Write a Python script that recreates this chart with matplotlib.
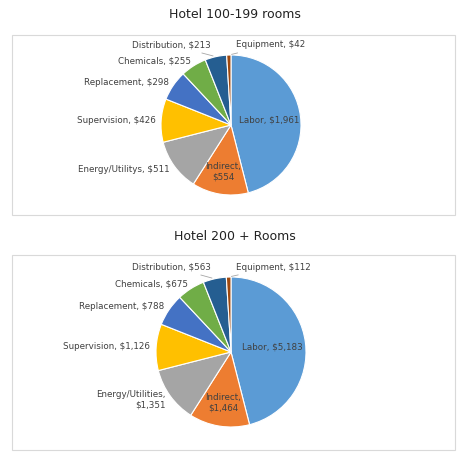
import matplotlib.pyplot as plt
import numpy as np
from matplotlib.patches import Rectangle

categories = ['Labor', 'Indirect', 'Energy/Utilitys', 'Supervision', 'Replacement',
              'Chemicals', 'Distribution', 'Equipment']
categories2 = ['Labor', 'Indirect', 'Energy/Utilities', 'Supervision', 'Replacement',
               'Chemicals', 'Distribution', 'Equipment']
values_small = [1961, 554, 511, 426, 298, 255, 213, 42]
values_large = [5183, 1464, 1351, 1126, 788, 675, 563, 112]
colors = ['#5B9BD5', '#ED7D31', '#A5A5A5', '#FFC000', '#4472C4', '#70AD47', '#255E91', '#9E480E']

plt.rcParams['font.family'] = ['Segoe UI', 'DejaVu Sans']
plt.rcParams['font.family'] = 'DejaVu Sans'

fig = plt.figure(figsize=(4.7, 4.65), dpi=100)
ax = fig.add_axes([0, 0, 1, 1])
ax.set_xlim(0, 470)
ax.set_ylim(0, 465)
ax.set_aspect('equal')
ax.axis('off')


def draw(title, cats, vals, cy, r, box_top, box_bot, title_y, sep2):
    ax.add_patch(Rectangle((12, box_bot), 443, box_top - box_bot, fill=False,
                           ec='#D9D9D9', lw=0.8))
    ax.text(235, title_y, title, ha='center', va='center', fontsize=9, color='#222222')
    wedges, _ = ax.pie(vals, colors=colors, startangle=90, counterclock=False,
                       center=(231, cy), radius=r,
                       wedgeprops=dict(edgecolor='white', linewidth=0.8))
    ax.set_xlim(0, 470)
    ax.set_ylim(0, 465)
    for i, (w, c, v) in enumerate(zip(wedges, cats, vals)):
        th = np.deg2rad((w.theta1 + w.theta2) / 2)
        lab = f'{c}, ${v:,}'
        if i < 2:
            if i == 1:
                lab = f'{c},\n${v:,}'
            d = 0.55 if i == 0 else 0.68
            ax.text(231 + d * r * np.cos(th), cy + d * r * np.sin(th), lab,
                    ha='center', va='center', fontsize=6.3, color='#404040')
        elif c == 'Equipment':
            ax.annotate(lab, xy=(231 + r * np.cos(th), cy + r * np.sin(th)),
                        xytext=(236, cy + r + 10), ha='left', va='center',
                        fontsize=6.3, color='#404040',
                        arrowprops=dict(arrowstyle='-', color='#A6A6A6', lw=0.6))
        elif c == 'Distribution':
            ax.annotate(lab, xy=(231 + r * np.cos(th), cy + r * np.sin(th)),
                        xytext=(211, cy + r + 10), ha='right', va='center',
                        fontsize=6.3, color='#404040',
                        arrowprops=dict(arrowstyle='-', color='#A6A6A6', lw=0.6))
        else:
            if sep2 and c.startswith('Energy'):
                lab = f'{c},\n${v:,}'
            d = 1.08
            ax.text(231 + d * r * np.cos(th), cy + d * r * np.sin(th), lab,
                    ha='right', va='center', fontsize=6.3, color='#404040')


draw('Hotel 100-199 rooms', categories, values_small, 340, 70, 430, 250, 450, False)
draw('Hotel 200 + Rooms', categories2, values_large, 113, 75, 210, 15, 228, True)

fig.savefig('out.png', dpi=100)
